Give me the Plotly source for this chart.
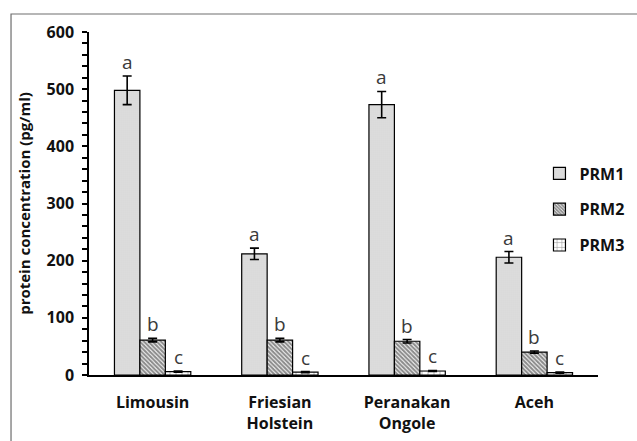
import plotly.graph_objects as go

# Breeds (x categories) and protamine concentrations (pg/ml)
breeds = ["Limousin", "Friesian<br>Holstein", "Peranakan<br>Ongole", "Aceh"]
series_names = ["PRM1", "PRM2", "PRM3"]
prm1 = [498, 212, 473, 206]
prm1_err = [25, 10, 23, 10]
prm2 = [61, 61, 59, 40]
prm2_err = [3, 3, 3, 2]
prm3 = [6, 5, 7, 4]
prm3_err = [1, 1, 1, 1]
letters = ["a", "b", "c"]

values = [prm1, prm2, prm3]
errors = [prm1_err, prm2_err, prm3_err]

patterns = [
    dict(shape=".", fgcolor="#8a8a8a", bgcolor="#eeeeee", size=2, solidity=0.4),
    dict(shape="\\", fgcolor="#1a1a1a", bgcolor="#ffffff", size=3, solidity=0.7),
    dict(shape="+", fgcolor="#222222", bgcolor="#ffffff", size=6, solidity=0.2),
]

font_family = "Open Sans, Noto Sans, DejaVu Sans, sans-serif"

fig = go.Figure()
for i, name in enumerate(series_names):
    fig.add_trace(go.Bar(
        name=name,
        x=breeds,
        y=values[i],
        legendgroup=name,
        marker=dict(color="#ffffff", pattern=patterns[i],
                    line=dict(color="#000000", width=1.2)),
        error_y=dict(type="data", array=errors[i], color="#000000",
                     thickness=1.6, width=4.5),
    ))

# significance letters above each bar
offsets = [-0.2, 0.0, 0.2]
for i in range(len(series_names)):
    for j in range(len(breeds)):
        fig.add_annotation(
            x=j + offsets[i], y=values[i][j] + errors[i][j],
            xref="x", yref="y", text=letters[i], showarrow=False,
            yanchor="bottom", yshift=-1,
            font=dict(family=font_family, size=19, color="#3a3a3a"),
        )

# outer frame around the figure
fig.add_shape(type="rect", xref="paper", yref="paper",
              x0=-0.1532, x1=1.3, y0=-0.4, y1=1.0525,
              line=dict(color="#6e6e6e", width=1.2), layer="below")

fig.update_layout(
    width=637, height=441,
    margin=dict(l=89, r=39, t=32, b=66, autoexpand=False),
    plot_bgcolor="#ffffff", paper_bgcolor="#ffffff",
    barmode="group", bargap=0.4, bargroupgap=0,
    font=dict(family=font_family, color="#111111"),
    showlegend=True,
    legend=dict(x=0.885, y=0.637, xanchor="left", yanchor="top",
                font=dict(size=16, family=font_family, weight="bold"),
                tracegroupgap=12, itemwidth=30, bgcolor="rgba(0,0,0,0)"),
    xaxis=dict(showline=True, linecolor="#000000", linewidth=1.5,
               ticks="", tickfont=dict(size=16, weight="bold"),
               ticklabelstandoff=12, showgrid=False),
    yaxis=dict(range=[0, 600], dtick=100, showline=True,
               linecolor="#000000", linewidth=1.5,
               ticks="outside", ticklen=5, tickwidth=1.5, tickcolor="#000000",
               minor=dict(dtick=20, ticks="outside", ticklen=5, tickwidth=1.5,
                          tickcolor="#000000"),
               tickfont=dict(size=16, weight="bold"), ticklabelstandoff=5,
               showgrid=False, zeroline=False,
               title=dict(text="protein concentration (pg/ml)",
                          font=dict(size=15, weight="bold"), standoff=12)),
)

fig.write_html("out.html")
